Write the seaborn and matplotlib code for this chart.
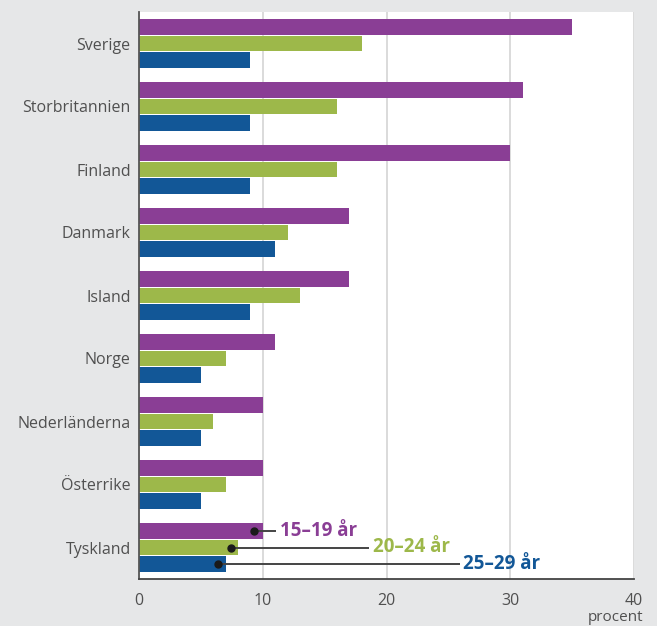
import matplotlib
matplotlib.use("Agg")
import matplotlib.pyplot as plt
import seaborn as sns
import pandas as pd

countries = ["Sverige", "Storbritannien", "Finland", "Danmark", "Island",
             "Norge", "Nederländerna", "Österrike", "Tyskland"]
age_groups = ["15–19 år", "20–24 år", "25–29 år"]
v_15_19 = [35, 31, 30, 17, 17, 11, 10, 10, 10]
v_20_24 = [18, 16, 16, 12, 13, 7, 6, 7, 8]
v_25_29 = [9, 9, 9, 11, 9, 5, 5, 5, 7]
colors = ["#8A3E95", "#9DB84A", "#125797"]
x_ticks = [0, 10, 20, 30, 40]

rows = []
for vals, g in zip([v_15_19, v_20_24, v_25_29], age_groups):
    for c, v in zip(countries, vals):
        rows.append({"land": c, "grupp": g, "procent": v})
df = pd.DataFrame(rows)

sns.set_theme(style="white")
plt.rcParams["font.family"] = ["Open Sans", "DejaVu Sans"]

bg = "#E6E7E8"
fig = plt.figure(figsize=(6.57, 6.26), dpi=100, facecolor=bg)
ax = fig.add_axes([139/657, 1 - 579/626, (634 - 139)/657, (579 - 12)/626])
ax.set_facecolor("white")

bar_width = 0.78
sns.barplot(data=df, y="land", x="procent", hue="grupp", order=countries,
            hue_order=age_groups, palette=colors, orient="h", width=bar_width,
            gap=0.04, ax=ax, legend=False, errorbar=None, saturation=1,
            linewidth=0)

ax.set_xlim(0, 40)
ax.set_ylim(len(countries) - 0.5, -0.5)
ax.set_xticks(x_ticks)
ax.set_xticklabels([str(t) for t in x_ticks])
ax.xaxis.grid(True, color="#D4D4D4", linewidth=1.2)
ax.set_axisbelow(True)
ax.set_xlabel("")
ax.set_ylabel("")
for s in ["top", "right"]:
    ax.spines[s].set_visible(False)
ax.spines["left"].set_color("#555555")
ax.spines["bottom"].set_color("#444444")
ax.spines["left"].set_linewidth(1.3)
ax.spines["bottom"].set_linewidth(1.3)
ax.tick_params(axis="both", length=0, labelsize=11.5, labelcolor="#505050")
ax.tick_params(axis="x", pad=10)
ax.tick_params(axis="y", pad=6)

ax.text(1.018, -0.054, "procent", transform=ax.transAxes, ha="right", va="top",
        fontsize=11, color="#505050")

# Legend callouts on the last group
last = len(countries) - 1
step = bar_width / len(age_groups)
dot_x = [9.3, 7.4, 6.4]
line_end = [11.1, 18.6, 25.9]
for i, (g, col) in enumerate(zip(age_groups, colors)):
    yc = last + (i - 1) * step
    ax.plot([dot_x[i], line_end[i]], [yc, yc], color="#444444", lw=1.4,
            solid_capstyle="butt", zorder=5, clip_on=False)
    ax.plot(dot_x[i], yc, "o", color="#1A1A1A", ms=5, zorder=6)
    ax.text(line_end[i] + 0.3, yc, g, color=col, fontsize=13.5, fontweight="bold",
            ha="left", va="center", zorder=6)

fig.savefig("out.png", dpi=100, facecolor=bg)
